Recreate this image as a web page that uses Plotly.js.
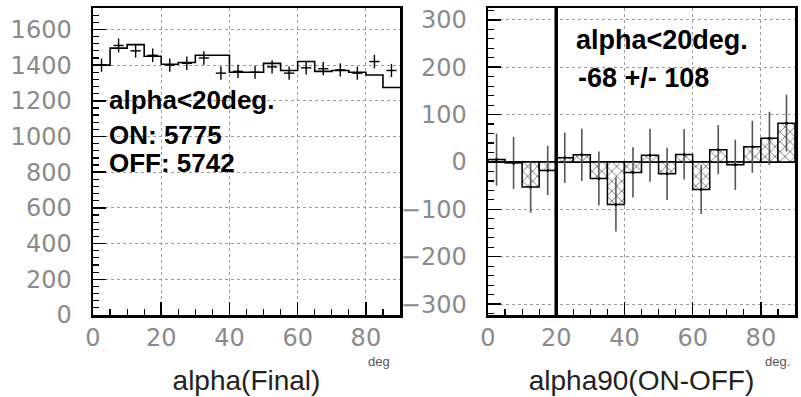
<!DOCTYPE html>
<html>
<head>
<meta charset="utf-8">
<script src="https://cdn.plot.ly/plotly-3.0.1.min.js"></script>
<style>
html,body{margin:0;padding:0;background:#fff;}
#chart{width:801px;height:397px;}
</style>
</head>
<body>
<div id="chart"></div>
<script>
// ---- data ----
const binEdges   = [0,5,10,15,20,25,30,35,40,45,50,55,60,65,70,75,80,85,90];
const binCenters = [2.5,7.5,12.5,17.5,22.5,27.5,32.5,37.5,42.5,47.5,52.5,57.5,62.5,67.5,72.5,77.5,82.5,87.5];

// left panel: alpha(Final), ON (step histogram) and OFF (points with errors)
const onCounts  = [1400,1495,1515,1450,1405,1415,1455,1455,1360,1360,1410,1370,1420,1365,1370,1360,1345,1275];
const offCounts = [1400,1510,1480,1455,1400,1410,1440,1355,1365,1360,1390,1355,1385,1380,1373,1355,1420,1370];
const offErrors = [37,39,38,38,37,38,38,37,37,37,37,37,37,37,37,37,38,37];

// right panel: alpha90(ON-OFF)
const diffValues = [5,-2,-53,-18,9,15,-35,-90,-22,14,-25,16,-58,26,-6,32,50,82];
const diffErrors = [55,55,54,52,53,55,57,57,53,56,55,53,52,52,53,55,56,60];

const alphaCut = 20;

const leftTitle  = 'alpha(Final)';
const rightTitle = 'alpha90(ON-OFF)';
const leftNotes  = ['alpha<20deg.', 'ON: 5775', 'OFF: 5742'];
const rightNotes = ['alpha<20deg.', '-68 +/- 108'];
const leftUnit = 'deg';
const rightUnit = 'deg.';

// ---- traces ----
const halfBin = (binEdges[1] - binEdges[0]) / 2;
const binWidth = binEdges[1] - binEdges[0];

const onStep = {
  type: 'scatter', mode: 'lines',
  x: binEdges,
  y: onCounts.concat([onCounts[onCounts.length - 1]]),
  line: {shape: 'hv', color: 'black', width: 1.6},
  xaxis: 'x', yaxis: 'y', hoverinfo: 'skip'
};

const offPts = {
  type: 'scatter', mode: 'markers',
  x: binCenters, y: offCounts,
  marker: {size: 2, color: 'black'},
  error_y: {type: 'data', array: offErrors, visible: true, color: 'black', thickness: 1.4, width: 0},
  error_x: {type: 'constant', value: halfBin * 0.6, visible: true, color: 'black', thickness: 1.4, width: 0},
  xaxis: 'x', yaxis: 'y'
};

const diffBars = {
  type: 'bar',
  x: binCenters, y: diffValues,
  width: binWidth,
  marker: {
    color: 'white',
    line: {color: 'black', width: 1.5},
    pattern: {shape: 'x', fgcolor: '#555', bgcolor: 'white', size: 7, solidity: 0.2}
  },
  xaxis: 'x2', yaxis: 'y2'
};

const diffErr = {
  type: 'scatter', mode: 'markers',
  x: binCenters, y: diffValues,
  marker: {size: 3, color: 'black'},
  error_y: {type: 'data', array: diffErrors, visible: true, color: '#555', thickness: 1.6, width: 0},
  xaxis: 'x2', yaxis: 'y2'
};

// ---- layout ----
const W = 801, H = 397;
const tickFont = {family: 'DejaVu Sans', size: 24, color: '#8a8a8a'};
const titleFont = {family: 'Liberation Sans, Arial', size: 28, color: '#222'};
const noteFont = {family: 'Liberation Sans, Arial', size: 26, color: 'black', weight: 'bold'};

function axisBase(extra) {
  return Object.assign({
    showline: true, linecolor: 'black', linewidth: 2.5, mirror: true,
    ticks: 'inside', ticklen: 13, tickwidth: 1.5, tickcolor: 'black',
    showgrid: true, gridcolor: '#9a9a9a', griddash: 'dot', gridwidth: 1,
    zeroline: false, tickfont: tickFont, automargin: false, fixedrange: true
  }, extra);
}

const layout = {
  width: W, height: H,
  margin: {l: 0, r: 0, t: 0, b: 0},
  paper_bgcolor: 'white', plot_bgcolor: 'white',
  showlegend: false, bargap: 0,
  xaxis: axisBase({
    domain: [93 / W, 400 / W], anchor: 'y', range: [0, 90], dtick: 20, tick0: 0,
    ticklabelstandoff: 0,
    minor: {ticks: 'inside', ticklen: 6, dtick: 5, tickcolor: 'black', tickwidth: 1.2, showgrid: false},
    title: {text: leftTitle, font: titleFont, standoff: 19}
  }),
  yaxis: axisBase({
    domain: [82 / H, 389 / H], anchor: 'x', range: [0, 1720], dtick: 200, tick0: 0,
    ticklabelstandoff: 14,
    minor: {ticks: 'inside', ticklen: 6, dtick: 40, tickcolor: 'black', tickwidth: 1.2, showgrid: false}
  }),
  xaxis2: axisBase({
    domain: [488 / W, 795 / W], anchor: 'y2', range: [0, 90], dtick: 20, tick0: 0,
    ticklabelstandoff: 0,
    minor: {ticks: 'inside', ticklen: 6, dtick: 5, tickcolor: 'black', tickwidth: 1.2, showgrid: false},
    title: {text: rightTitle, font: titleFont, standoff: 19}
  }),
  yaxis2: axisBase({
    domain: [82 / H, 389 / H], anchor: 'x2', range: [-323, 325], dtick: 100, tick0: 0,
    ticklabelstandoff: 14,
    zeroline: true, zerolinecolor: 'black', zerolinewidth: 1.5,
    minor: {ticks: 'inside', ticklen: 6, dtick: 20, tickcolor: 'black', tickwidth: 1.2, showgrid: false}
  }),
  shapes: [{
    type: 'line', xref: 'x2', yref: 'y2 domain',
    x0: alphaCut, x1: alphaCut, y0: 0, y1: 1,
    line: {color: 'black', width: 3.5}
  }],
  annotations: [
    {xref: 'paper', yref: 'paper', x: 107 / W, y: 1 - 100 / H, xanchor: 'left', yanchor: 'middle', text: leftNotes[0], showarrow: false, font: noteFont},
    {xref: 'paper', yref: 'paper', x: 107 / W, y: 1 - 135 / H, xanchor: 'left', yanchor: 'middle', text: leftNotes[1], showarrow: false, font: noteFont},
    {xref: 'paper', yref: 'paper', x: 107 / W, y: 1 - 163 / H, xanchor: 'left', yanchor: 'middle', text: leftNotes[2], showarrow: false, font: noteFont},
    {xref: 'paper', yref: 'paper', x: 574 / W, y: 1 - 40 / H, xanchor: 'left', yanchor: 'middle', text: rightNotes[0], showarrow: false, font: Object.assign({}, noteFont, {size: 27})},
    {xref: 'paper', yref: 'paper', x: 576 / W, y: 1 - 78 / H, xanchor: 'left', yanchor: 'middle', text: rightNotes[1], showarrow: false, font: Object.assign({}, noteFont, {size: 27})},
    {xref: 'paper', yref: 'paper', x: 379 / W, y: 1 - 361 / H, xanchor: 'center', yanchor: 'middle', text: leftUnit, showarrow: false, font: {family: 'Liberation Sans, Arial', size: 13, color: '#555'}},
    {xref: 'paper', yref: 'paper', x: 777 / W, y: 1 - 361 / H, xanchor: 'center', yanchor: 'middle', text: rightUnit, showarrow: false, font: {family: 'Liberation Sans, Arial', size: 13, color: '#555'}}
  ]
};

Plotly.newPlot('chart', [onStep, offPts, diffBars, diffErr], layout, {displayModeBar: false, staticPlot: true});
</script>
</body>
</html>
